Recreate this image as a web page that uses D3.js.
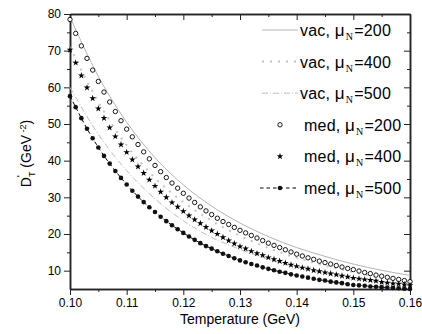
<!DOCTYPE html>
<html>
<head>
<meta charset="utf-8">
<script src="https://cdn.jsdelivr.net/npm/d3@7/dist/d3.min.js"></script>
<style>
body { margin: 0; background: #fff; }
text { font-family: "Liberation Sans", Arial, sans-serif; fill: #000; }
</style>
</head>
<body>
<svg id="chart" width="422" height="334"></svg>
<script>
/**
 * Data
 */
// temperature grid of the medium points (GeV)
var tempMed = [0.100, 0.101, 0.102, 0.103, 0.104, 0.105, 0.106, 0.107, 0.108, 0.109,
               0.110, 0.111, 0.112, 0.113, 0.114, 0.115, 0.116, 0.117, 0.118, 0.119,
               0.120, 0.121, 0.122, 0.123, 0.124, 0.125, 0.126, 0.127, 0.128, 0.129,
               0.130, 0.131, 0.132, 0.133, 0.134, 0.135, 0.136, 0.137, 0.138, 0.139,
               0.140, 0.141, 0.142, 0.143, 0.144, 0.145, 0.146, 0.147, 0.148, 0.149,
               0.150, 0.151, 0.152, 0.153, 0.154, 0.155, 0.156, 0.157, 0.158, 0.159, 0.160];

var med200 = [78.5, 74.7, 71.3, 67.9, 64.7, 61.6, 58.7, 56.0, 53.4, 50.9,
              48.6, 46.5, 44.4, 42.4, 40.5, 38.7, 37.0, 35.4, 33.9, 32.5,
              31.1, 29.8, 28.6, 27.4, 26.3, 25.3, 24.3, 23.4, 22.6, 21.8,
              21.0, 20.3, 19.6, 18.9, 18.2, 17.5, 16.9, 16.3, 15.7, 15.1,
              14.5, 14.0, 13.5, 13.1, 12.6, 12.2, 11.8, 11.4, 11.0, 10.6,
              10.3, 9.9, 9.5, 9.2, 8.8, 8.5, 8.2, 7.9, 7.6, 7.3, 7.0];

var med400 = [70.2, 66.7, 63.2, 59.9, 57.0, 54.2, 51.6, 49.0, 46.6, 44.4,
              42.3, 40.3, 38.4, 36.6, 34.8, 33.1, 31.5, 30.0, 28.6, 27.4,
              26.2, 25.0, 23.9, 22.9, 21.9, 20.9, 20.0, 19.1, 18.2, 17.4,
              16.6, 16.0, 15.3, 14.7, 14.2, 13.6, 13.1, 12.6, 12.1, 11.6,
              11.2, 10.8, 10.5, 10.1, 9.8, 9.5, 9.2, 8.9, 8.6, 8.3,
              8.0, 7.8, 7.6, 7.4, 7.2, 6.9, 6.7, 6.5, 6.4, 6.2, 6.0];

var med500 = [57.6, 54.6, 51.6, 48.7, 46.1, 43.6, 41.3, 39.2, 37.2, 35.3,
              33.5, 31.8, 30.2, 28.7, 27.3, 26.0, 24.7, 23.5, 22.4, 21.3,
              20.3, 19.3, 18.4, 17.5, 16.7, 16.0, 15.3, 14.6, 14.0, 13.4,
              12.8, 12.3, 11.8, 11.4, 10.9, 10.5, 10.1, 9.7, 9.4, 9.0,
              8.7, 8.4, 8.1, 7.8, 7.5, 7.3, 7.0, 6.8, 6.6, 6.3,
              6.1, 6.0, 5.9, 5.7, 5.6, 5.5, 5.4, 5.3, 5.2, 5.1, 5.0];

// vacuum curves, sampled coarser
var tempVac = [0.100, 0.105, 0.110, 0.115, 0.120, 0.125, 0.130, 0.135, 0.140, 0.145, 0.150, 0.155, 0.160];
var vac200 = [79.2, 63.0, 50.5, 40.8, 33.4, 27.6, 23.0, 19.3, 16.3, 13.9, 11.8, 10.1, 8.7];
var vac400 = [71.0, 56.0, 44.2, 35.3, 28.7, 23.6, 19.5, 16.2, 13.5, 11.4, 9.6, 8.1, 6.9];
var vac500 = [60.0, 47.2, 37.3, 29.6, 23.6, 19.1, 15.8, 13.1, 11.0, 9.3, 7.9, 6.8, 5.9];

var xMajor = [0.10, 0.11, 0.12, 0.13, 0.14, 0.15, 0.16];
var xMinor = [0.105, 0.115, 0.125, 0.135, 0.145, 0.155];
var yMajor = [10, 20, 30, 40, 50, 60, 70, 80];
var yMinor = [15, 25, 35, 45, 55, 65, 75];

var legendVac = ["200", "400", "500"];
var legendMed = ["200", "400", "500"];

window.onload = function(){
    drawChart();
};

function drawChart() {
    var svg = d3.select("#chart");
    var left = 70, right = 410, top = 14, bottom = 289;

    var x = d3.scaleLinear().domain([0.10, 0.16]).range([left, right]);
    var y = d3.scaleLinear().domain([5, 80]).range([bottom, top]);

    // axes: bottom/left ticks out, top/right ticks in
    function styleAxis(g) {
        g.selectAll(".domain").attr("stroke", "#222").attr("stroke-width", 1.5);
        g.selectAll(".tick line").attr("stroke", "#222").attr("stroke-width", 1);
        g.selectAll(".tick text").style("font-size", "12px").attr("fill", "#000");
    }

    svg.append("g").attr("transform", "translate(0," + bottom + ")")
        .call(d3.axisBottom(x).tickValues(xMinor).tickSize(3).tickSizeOuter(0).tickFormat(""))
        .call(styleAxis);
    svg.append("g").attr("transform", "translate(0," + bottom + ")")
        .call(d3.axisBottom(x).tickValues(xMajor).tickSize(6).tickSizeOuter(0).tickFormat(d3.format(".2f")))
        .call(styleAxis);
    svg.append("g").attr("transform", "translate(0," + top + ")")
        .call(d3.axisTop(x).tickValues(xMinor).tickSize(-3).tickSizeOuter(0).tickFormat(""))
        .call(styleAxis);
    svg.append("g").attr("transform", "translate(0," + top + ")")
        .call(d3.axisTop(x).tickValues(xMajor).tickSize(-6).tickSizeOuter(0).tickFormat(""))
        .call(styleAxis);

    svg.append("g").attr("transform", "translate(" + left + ",0)")
        .call(d3.axisLeft(y).tickValues(yMinor).tickSize(3).tickSizeOuter(0).tickFormat(""))
        .call(styleAxis);
    svg.append("g").attr("transform", "translate(" + left + ",0)")
        .call(d3.axisLeft(y).tickValues(yMajor).tickSize(6).tickSizeOuter(0).tickFormat(d3.format("d")))
        .call(styleAxis);
    svg.append("g").attr("transform", "translate(" + right + ",0)")
        .call(d3.axisRight(y).tickValues(yMinor).tickSize(-3).tickSizeOuter(0).tickFormat(""))
        .call(styleAxis);
    svg.append("g").attr("transform", "translate(" + right + ",0)")
        .call(d3.axisRight(y).tickValues(yMajor).tickSize(-6).tickSizeOuter(0).tickFormat(""))
        .call(styleAxis);

    // vacuum lines
    var vacLine = d3.line()
        .curve(d3.curveMonotoneX)
        .x(function(d, i){ return x(tempVac[i]); })
        .y(function(d){ return y(d); });

    var vacStyles = [
        {stroke: "#b4b4b4", width: 1, dash: null},
        {stroke: "#c4c4c4", width: 2, dash: "2,6"},
        {stroke: "#bdbdbd", width: 1, dash: "6,2,1,2"}
    ];
    [vac200, vac400, vac500].forEach(function(s, k){
        svg.append("path")
            .datum(s)
            .attr("d", vacLine)
            .attr("fill", "none")
            .attr("stroke", vacStyles[k].stroke)
            .attr("stroke-width", vacStyles[k].width)
            .attr("stroke-dasharray", vacStyles[k].dash);
    });

    // medium, mu = 500: dashed line with filled dots
    var medLine = d3.line()
        .x(function(d, i){ return x(tempMed[i]); })
        .y(function(d){ return y(d); });

    svg.append("path")
        .datum(med500)
        .attr("d", medLine)
        .attr("fill", "none")
        .attr("stroke", "#000")
        .attr("stroke-width", 1)
        .attr("stroke-dasharray", "3.5,3");

    svg.append("g").selectAll("circle")
        .data(med200)
        .enter()
        .append("circle")
        .attr("cx", function(d, i){ return x(tempMed[i]); })
        .attr("cy", function(d){ return y(d); })
        .attr("r", 2.2)
        .attr("fill", "#fff")
        .attr("stroke", "#000")
        .attr("stroke-width", 0.9);

    var star = d3.symbol().type(d3.symbolStar).size(14);
    svg.append("g").selectAll("path")
        .data(med400)
        .enter()
        .append("path")
        .attr("d", star)
        .attr("transform", function(d, i){
            return "translate(" + x(tempMed[i]) + "," + y(d) + ")";
        })
        .attr("fill", "#000");

    svg.append("g").selectAll("circle")
        .data(med500)
        .enter()
        .append("circle")
        .attr("cx", function(d, i){ return x(tempMed[i]); })
        .attr("cy", function(d){ return y(d); })
        .attr("r", 2.3)
        .attr("fill", "#111");

    // legend
    var legX = 262, legW = 36, row0 = 30, rowStep = 31.6;
    function legendLabel(rowY, textX, prefix, val) {
        var t = svg.append("text")
            .attr("x", textX)
            .attr("y", rowY + 6)
            .style("font-size", "16px")
            .style("letter-spacing", "0.2px");
        t.append("tspan").text(prefix + ", ");
        t.append("tspan").style("font-size", "17px").text("\u03bc");
        t.append("tspan")
            .attr("dy", 4)
            .attr("dx", 1)
            .style("font-size", "10px")
            .style("font-family", "'Liberation Serif', serif")
            .text("N");
        t.append("tspan").attr("dy", -4).attr("dx", 1).text("=" + val);
    }

    legendVac.forEach(function(v, k){
        var ry = row0 + k * rowStep;
        svg.append("line")
            .attr("x1", legX).attr("x2", legX + legW)
            .attr("y1", ry).attr("y2", ry)
            .attr("stroke", vacStyles[k].stroke)
            .attr("stroke-width", vacStyles[k].width)
            .attr("stroke-dasharray", vacStyles[k].dash);
        legendLabel(ry, 300, "vac", v);
    });

    legendMed.forEach(function(v, k){
        var ry = row0 + (k + 3) * rowStep;
        var cx = legX + legW / 2;
        if (k == 0) {
            svg.append("circle").attr("cx", cx).attr("cy", ry).attr("r", 2.2)
                .attr("fill", "#fff").attr("stroke", "#000").attr("stroke-width", 0.9);
        } else if (k == 1) {
            svg.append("path").attr("d", star)
                .attr("transform", "translate(" + cx + "," + ry + ")")
                .attr("fill", "#000");
        } else {
            svg.append("line")
                .attr("x1", legX - 2).attr("x2", legX + legW)
                .attr("y1", ry).attr("y2", ry)
                .attr("stroke", "#000").attr("stroke-width", 1)
                .attr("stroke-dasharray", "3.5,3");
            svg.append("circle").attr("cx", cx).attr("cy", ry).attr("r", 2.3)
                .attr("fill", "#111");
        }
        legendLabel(ry, 304, "med", v);
    });

    // axis titles
    svg.append("text")
        .attr("x", (left + right) / 2)
        .attr("y", 324)
        .attr("text-anchor", "middle")
        .style("font-size", "14px")
        .text("Temperature (GeV)");

    var yt = svg.append("text")
        .attr("transform", "translate(31," + ((top + bottom) / 2 + 2) + ") rotate(-90)")
        .attr("text-anchor", "middle")
        .style("font-size", "14px");
    yt.append("tspan").text("D");
    yt.append("tspan").attr("dy", -6).style("font-size", "11px").text("'");
    yt.append("tspan").attr("dy", 10).attr("dx", -2).style("font-size", "9px").text("T");
    yt.append("tspan").attr("dy", -4).text(" (GeV");
    yt.append("tspan").attr("dy", -5).style("font-size", "9px").text(" -2");
    yt.append("tspan").attr("dy", 5).text(")");
}
</script>
</body>
</html>
